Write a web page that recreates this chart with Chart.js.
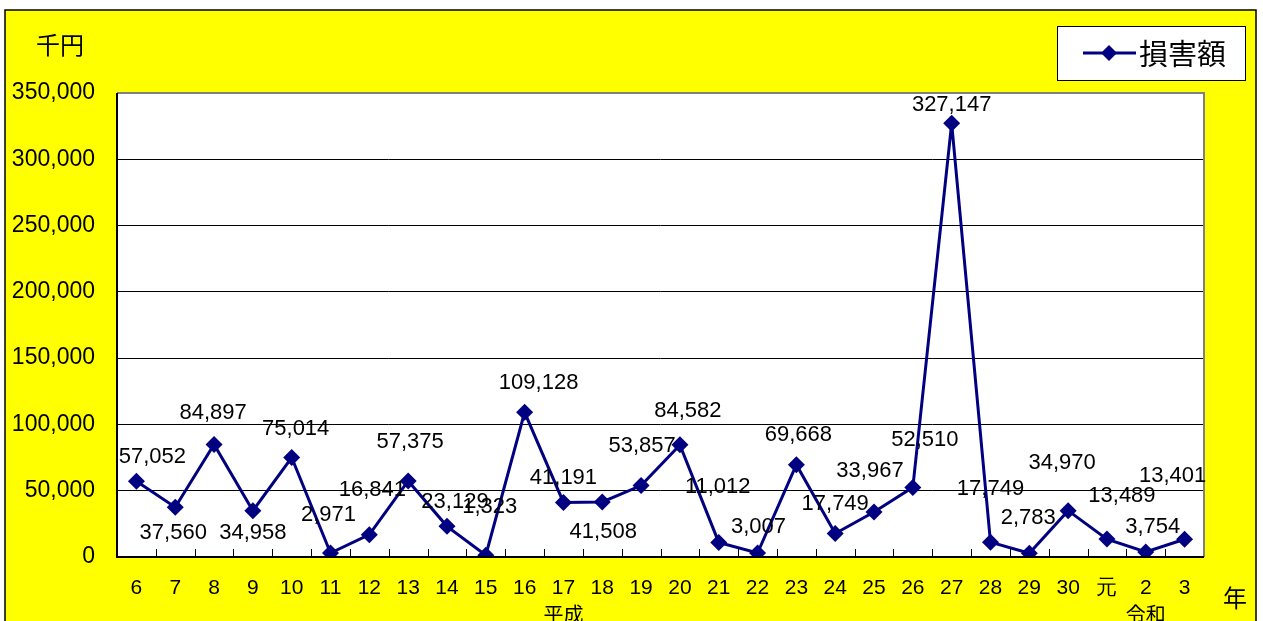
<!DOCTYPE html>
<html lang="ja">
<head>
<meta charset="utf-8">
<title>損害額</title>
<script src="https://cdn.jsdelivr.net/npm/chart.js@4.4.1/dist/chart.umd.min.js"></script>
<style>
  html, body { margin: 0; padding: 0; background: #fff; overflow: hidden; }
  #wrap { position: relative; width: 1263px; height: 621px; }
</style>
</head>
<body>
<div id="wrap"><canvas id="damageChart" width="1263" height="621"></canvas></div>
<script>
'use strict';

/* ───── DATA ───────────────────────────────────────────────────────────── */
const years = ['6', '7', '8', '9', '10', '11', '12', '13', '14', '15', '16', '17', '18', '19', '20',
               '21', '22', '23', '24', '25', '26', '27', '28', '29', '30', '元', '2', '3'];
const damage = [57052, 37560, 84897, 34958, 75014, 2971, 16841, 57375, 23129, 1323, 109128, 41191, 41508, 53857, 84582,
                11012, 3007, 69668, 17749, 33967, 52510, 327147, 11200, 2783, 34970, 13489, 3754, 13401];
// printed labels (the original shows 17,749 above the 28 point)
const damageLabels = ['57,052', '37,560', '84,897', '34,958', '75,014', '2,971', '16,841', '57,375', '23,129', '1,323',
                      '109,128', '41,191', '41,508', '53,857', '84,582', '11,012', '3,007', '69,668', '17,749', '33,967',
                      '52,510', '327,147', '17,749', '2,783', '34,970', '13,489', '3,754', '13,401'];
const yTicks = [0, 50000, 100000, 150000, 200000, 250000, 300000, 350000];
const seriesName = '損害額';
const unitLabel = '千円';
const yearLabel = '年';
const eraLabels = [{ text: '平成', at: '17' }, { text: '令和', at: '2' }];

/* ───── STYLE ──────────────────────────────────────────────────────────── */
const NAVY = '#000080';
const NUM_FONT = 'Liberation Sans, Arial, sans-serif';
const JP_FONT = '"Noto Sans CJK JP", sans-serif';
// label offset from its point [dx, dy]
const labelOffsets = [
    [16, -24], [-2, 26], [-1, -32], [0, 22], [4, -29], [-2, -38], [3, -45], [2, -39], [8, -24], [4, -48],
    [14, -29], [0, -24], [1, 30], [1, -40], [8, -34], [-1, -55], [1, -26], [2, -30], [0, -30], [-4, -41],
    [12, -47], [0, -18], [0, -53], [-1, -35], [-6, -48], [15, -43], [7, -25], [-12, -63],
];

/* ───── PLUGINS ────────────────────────────────────────────────────────── */
const backgroundPlugin = {
    id: 'yellowFrame',
    beforeDraw(chart) {
        const { ctx, width, height, chartArea: { left, right, top, bottom } } = chart;
        ctx.save();
        ctx.fillStyle = '#ffffff';
        ctx.fillRect(0, 0, width, height);
        ctx.fillStyle = '#ffff00';
        ctx.fillRect(5, 10, 1251, height);
        ctx.strokeStyle = '#000';
        ctx.lineWidth = 1.5;
        ctx.beginPath();
        ctx.moveTo(5, height); ctx.lineTo(5, 10); ctx.lineTo(1256, 10); ctx.lineTo(1256, height);
        ctx.stroke();
        ctx.fillStyle = '#ffffff';
        ctx.fillRect(left, top, right - left, bottom - top);
        ctx.restore();
    },
};

const decorPlugin = {
    id: 'decor',
    afterDatasetsDraw(chart) {
        const { ctx, chartArea: { left, right, top, bottom }, scales: { x, y } } = chart;
        ctx.save();
        // frame: gray top/right, black left/bottom
        ctx.strokeStyle = '#808080';
        ctx.lineWidth = 2;
        ctx.beginPath();
        ctx.moveTo(left, top); ctx.lineTo(right, top); ctx.lineTo(right, bottom);
        ctx.stroke();
        ctx.strokeStyle = '#000';
        ctx.beginPath();
        ctx.moveTo(left, top); ctx.lineTo(left, bottom); ctx.lineTo(right, bottom);
        ctx.stroke();

        // inner tick marks between categories
        ctx.lineWidth = 1;
        const step = x.getPixelForValue(1) - x.getPixelForValue(0);
        ctx.beginPath();
        for (let i = 0; i < years.length - 1; i++) {
            const px = Math.round(x.getPixelForValue(i) + step / 2) + 0.5;
            ctx.moveTo(px, bottom); ctx.lineTo(px, bottom - 8);
        }
        ctx.stroke();

        // data labels
        ctx.fillStyle = '#000';
        ctx.font = `22px ${NUM_FONT}`;
        ctx.textAlign = 'center';
        ctx.textBaseline = 'middle';
        damage.forEach((v, i) => {
            const [dx, dy] = labelOffsets[i];
            ctx.fillText(damageLabels[i], x.getPixelForValue(i) + dx, y.getPixelForValue(v) + dy);
        });

        // unit, year, era texts
        ctx.font = `24px ${JP_FONT}`;
        ctx.fillText(unitLabel, 60, 45);
        ctx.fillText(yearLabel, 1235, 598);
        ctx.font = `20px ${JP_FONT}`;
        ctx.textBaseline = 'top';
        eraLabels.forEach(e => {
            ctx.fillText(e.text, x.getPixelForValue(years.indexOf(e.at)), 604);
        });

        // legend
        ctx.fillStyle = '#fff';
        ctx.fillRect(1057, 26, 188, 54);
        ctx.strokeStyle = '#000';
        ctx.lineWidth = 1;
        ctx.strokeRect(1057.5, 26.5, 188, 54);
        ctx.strokeStyle = NAVY;
        ctx.lineWidth = 3;
        ctx.beginPath(); ctx.moveTo(1083, 53); ctx.lineTo(1136, 53); ctx.stroke();
        ctx.fillStyle = NAVY;
        ctx.beginPath();
        ctx.moveTo(1109, 45); ctx.lineTo(1117, 53); ctx.lineTo(1109, 61); ctx.lineTo(1101, 53);
        ctx.closePath(); ctx.fill();
        ctx.fillStyle = '#000';
        ctx.font = `29px ${JP_FONT}`;
        ctx.textAlign = 'left';
        ctx.textBaseline = 'middle';
        ctx.fillText(seriesName, 1139, 54);
        ctx.restore();
    },
};

/* ───── CHART ──────────────────────────────────────────────────────────── */
new Chart(document.getElementById('damageChart').getContext('2d'), {
    type: 'line',
    data: {
        labels: years,
        datasets: [{
            label: seriesName,
            data: damage,
            borderColor: NAVY,
            backgroundColor: NAVY,
            borderWidth: 3,
            pointStyle: 'rectRot',
            pointRadius: 8.5,
            pointBackgroundColor: NAVY,
            pointBorderColor: NAVY,
            pointBorderWidth: 0,
            tension: 0,
            fill: false,
        }],
    },
    options: {
        responsive: false,
        animation: false,
        layout: { padding: { left: 0, right: 59, top: 93, bottom: 0 } },
        plugins: { legend: { display: false }, tooltip: { enabled: false } },
        scales: {
            x: {
                type: 'category',
                offset: true,
                grid: { display: false, drawTicks: false },
                border: { display: false },
                ticks: { color: '#000', padding: 19, maxRotation: 0, autoSkip: false,
                         font: { family: NUM_FONT, size: 21 } },
                afterFit: s => { s.height = 64; },
            },
            y: {
                min: 0, max: 350000,
                afterBuildTicks: s => { s.ticks = yTicks.map(v => ({ value: v })); },
                grid: { color: '#000', lineWidth: 1, drawTicks: false },
                border: { display: false },
                ticks: { color: '#000', padding: 22,
                         font: { family: NUM_FONT, size: 23 },
                         callback: v => v.toLocaleString('en-US') },
                afterFit: s => { s.width = 117; },
            },
        },
    },
    plugins: [backgroundPlugin, decorPlugin],
});
</script>
</body>
</html>
